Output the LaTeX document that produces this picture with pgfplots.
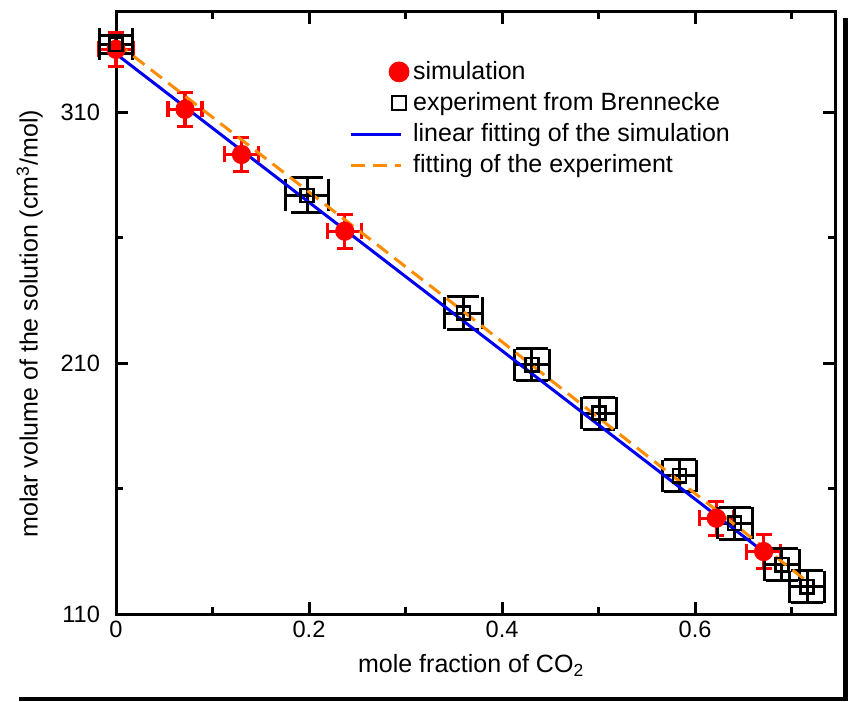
\documentclass[border=0pt]{standalone}
\usepackage{fontspec}
\setmainfont{Liberation Sans}
\usepackage{pgfplots}
\pgfplotsset{compat=1.18}
\usetikzlibrary{calc}
\definecolor{simred}{RGB}{255,0,0}
\definecolor{fitblue}{RGB}{0,0,240}
\definecolor{fitorange}{RGB}{255,140,0}
\pgfplotsset{lineleg/.style={legend image code/.code={\draw[##1] (0pt,0pt) -- (25pt,0pt);}}}

\begin{document}
\begin{tikzpicture}
\begin{axis}[name=ax, scale only axis, width=359.5pt, height=301pt,
  xmin=0, xmax=0.745, ymin=110, ymax=350,
  xtick={0,0.2,0.4,0.6}, minor xtick={0.1,0.3,0.5,0.7},
  ytick={110,210,310}, minor ytick={160,260},
  tick align=inside, tick pos=both,
  major tick length=6pt, minor tick length=3.5pt,
  axis line style={line width=1.5pt},
  tick style={black, line width=1.5pt},
  clip=false,
  label style={font=\fontsize{12.5}{15}\selectfont},
  tick label style={font=\fontsize{11.8}{13}\selectfont},
  /pgf/number format/assume math mode=true,
  yticklabel style={xshift=-4.5pt},
  xlabel={mole fraction of CO\textsubscript{2}},
  ylabel={molar volume of the solution (cm\textsuperscript{3}/mol)},
  xlabel style={at={(axis description cs:0.494,-0.086)}, anchor=center},
  ylabel style={at={(axis description cs:-0.12,0.482)}, anchor=center},
  legend style={draw=none, fill=none, at={(axis description cs:0.316,0.932)},
    anchor=north west, font=\fontsize{12.5}{15}\selectfont, row sep=1pt,
    /tikz/every even column/.append style={column sep=7.5pt}},
  legend cell align=left,
]
% simulation
\addplot[simred, only marks, mark=*, mark size=4.6pt,
  legend image code/.code={\draw[only marks, mark=*, simred, mark size=5pt] plot coordinates {(24pt,0pt)};},
  error bars/.cd, x dir=both, x explicit, y dir=both, y explicit,
  error mark=|,
  error bar style={simred, line width=1.6pt},
  error mark options={simred, line width=1.6pt, mark size=4pt}]
  table[x=x, y=y, x error=ex, y error=ey] {
x      y     ex     ey
0      335.1 0.0176 6.8
0.0715 311.2 0.0176 6.8
0.130  293.2 0.0176 6.8
0.237  262.6 0.0176 6.8
0.622  148.2 0.0176 6.8
0.671  134.9 0.0176 6.8
};
\addlegendentry{simulation}
% experiment
\addplot[black, only marks, mark=square, mark size=3.3pt, line width=1.25pt,
  legend image code/.code={\draw[only marks, mark=square, black, line width=1.25pt, mark size=3.5pt] plot coordinates {(24pt,0pt)};},
  error bars/.cd, x dir=both, x explicit, y dir=both, y explicit,
  error mark=|,
  error bar style={black, line width=1.5pt},
  error mark options={black, line width=1.5pt, mark size=8pt}]
  table[x=x, y=y, x error=ex, y error=ey] {
x      y     ex     ey
0      337.1 0.017  3.5
0.198  276.9 0.022  7.0
0.360  230.0 0.020  6.4
0.431  209.4 0.018  6.4
0.5005 190.1 0.018  6.4
0.584  165.1 0.018  6.4
0.641  146.2 0.018  6.4
0.690  129.6 0.018  6.4
0.716  120.9 0.018  6.4
};
\addlegendentry{experiment from Brennecke}
% fits
\addplot[fitblue, line width=1.5pt, lineleg]
  coordinates {(0,333.3) (0.672,134.5)};
\addlegendentry{linear fitting of the simulation}
\addplot[fitorange, line width=1.5pt, dash pattern=on 7pt off 4pt, lineleg]
  coordinates {(0,337.8) (0.36,230.6) (0.715,123.3)};
\addlegendentry{fitting of the experiment}
\end{axis}
\draw[line width=2pt] ($(ax.south west)+(-48.5pt,-42.5pt)$) -- ($(ax.south east)+(6.5pt,-42.5pt)$);
\draw[line width=2.5pt] ($(ax.north east)+(5.25pt,-3pt)$) -- ($(ax.south east)+(5.25pt,-43.5pt)$);
\pgfresetboundingbox
\path[use as bounding box] ($(ax.south west)+(-58pt,-43.5pt)$) rectangle ($(ax.north east)+(6.5pt,6pt)$);
\end{tikzpicture}
\end{document}
